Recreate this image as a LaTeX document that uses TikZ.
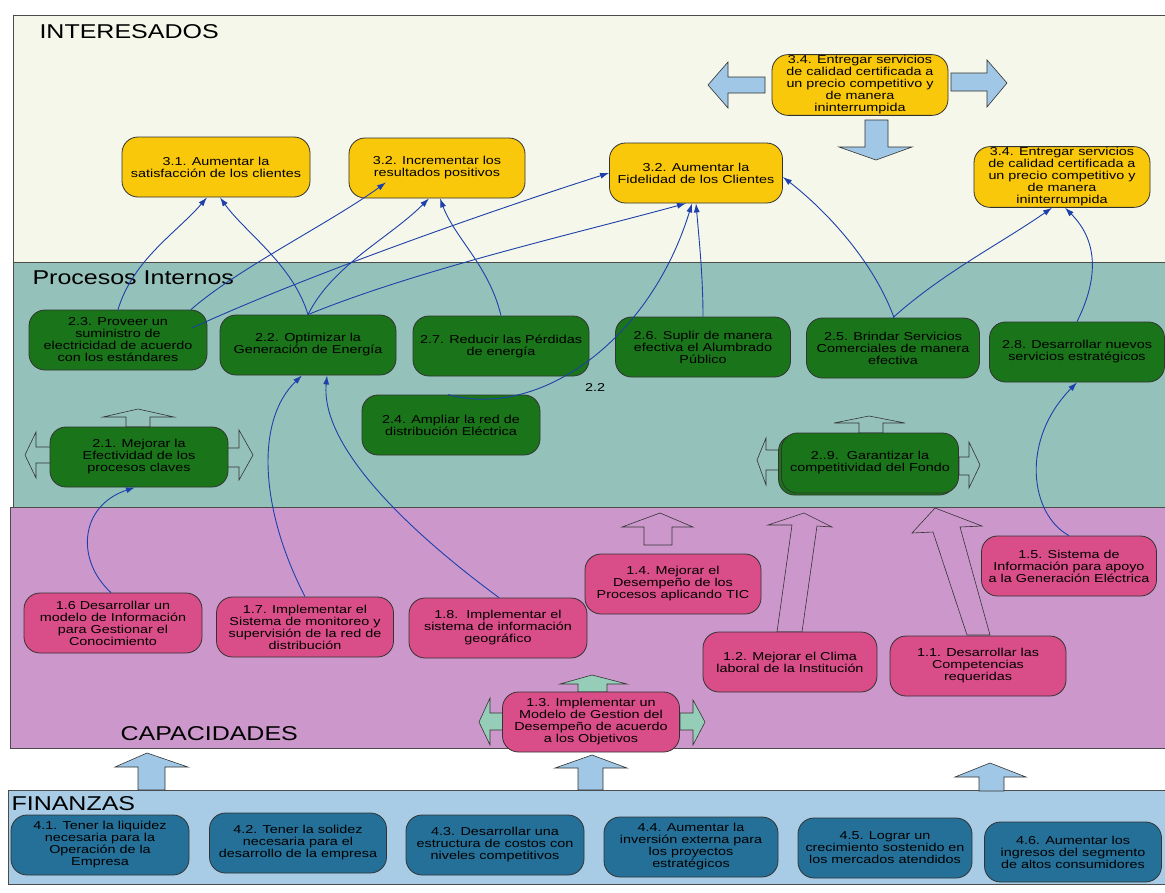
\documentclass[tikz,border=0pt]{standalone}
\usepackage{fontspec}
\setmainfont{Liberation Sans}[FakeStretch=1.25]
\usetikzlibrary{arrows.meta,shadows}

\definecolor{intfill}{RGB}{244,247,233}
\definecolor{procfill}{RGB}{148,194,186}
\definecolor{capfill}{RGB}{204,152,204}
\definecolor{finfill}{RGB}{168,204,230}
\definecolor{objyellow}{RGB}{250,200,10}
\definecolor{procgreen}{RGB}{26,116,26}
\definecolor{cappink}{RGB}{217,78,136}
\definecolor{finblue}{RGB}{36,112,152}
\definecolor{linkblue}{RGB}{30,64,170}
\definecolor{arrowblue}{RGB}{160,200,230}
\definecolor{arrowteal}{RGB}{150,205,185}

\tikzset{
  box/.style={rounded corners=16pt, draw=black!80, line width=.8pt, align=center,
    minimum width=176pt, minimum height=60pt, inner sep=1pt,
    font=\fontsize{11.5}{12}\selectfont},
  ybox/.style={box, fill=objyellow},
  gbox/.style={box, fill=procgreen},
  pbox/.style={box, fill=cappink},
  bbox/.style={box, fill=finblue},
  band/.style={draw=black!70, line width=.8pt},
  heading/.style={anchor=base west, font=\fontsize{20}{24}\selectfont},
  hollow/.style={draw=black!80, line width=.6pt},
  link/.style={draw=linkblue, line width=.9pt, -{Latex[length=9pt,width=6pt]}}
}

\begin{document}
\begin{tikzpicture}[x=1pt,y=-1pt]
  \useasboundingbox (0,0) rectangle (1165,892);

  % perspective bands
  \filldraw[band,fill=intfill] (13,15) rectangle (1175,262);
  \filldraw[band,fill=procfill] (13,262) rectangle (1175,507);
  \filldraw[band,fill=capfill] (10,507) rectangle (1175,748);
  \filldraw[band,fill=finfill] (8,790) rectangle (1175,884);

  \node[heading] (hint) at (36,38) {INTERESADOS};
  \node[heading] (hproc) at (29,284) {Procesos Internos};
  \node[heading] (hcap) at (117,740) {CAPACIDADES};
  \node[heading] (hfin) at (8,810) {FINANZAS};

  % block arrows
  \filldraw[hollow,fill=arrowblue] (765,77) -- (728,77) -- (728,62) -- (708,85) -- (728,108) -- (728,93) -- (765,93) -- cycle;
  \filldraw[hollow,fill=arrowblue] (951,73) -- (987,73) -- (987,60) -- (1007,83) -- (987,107) -- (987,91) -- (951,91) -- cycle;
  \filldraw[hollow,fill=arrowblue] (865,120) -- (888,120) -- (888,147) -- (912,147) -- (876,160) -- (839,147) -- (865,147) -- cycle;

  \filldraw[hollow,fill=procfill] (126,427) -- (126,417) -- (103,417) -- (138,409) -- (174,417) -- (150,417) -- (150,427) -- cycle;
  \filldraw[hollow,fill=procfill] (52,447) -- (36,447) -- (36,432) -- (25,455) -- (36,478) -- (36,463) -- (52,463) -- cycle;
  \filldraw[hollow,fill=procfill] (226,448) -- (239,448) -- (239,430) -- (253,455) -- (239,480) -- (239,467) -- (226,467) -- cycle;
  \filldraw[hollow,fill=procfill] (859,433) -- (859,423) -- (834,423) -- (869,416) -- (905,423) -- (883,423) -- (883,433) -- cycle;
  \filldraw[hollow,fill=procfill] (782,450) -- (766,450) -- (766,438) -- (757,460) -- (766,485) -- (766,470) -- (782,470) -- cycle;
  \filldraw[hollow,fill=procfill] (959,457) -- (969,457) -- (969,442) -- (980,465) -- (969,488) -- (969,475) -- (959,475) -- cycle;

  \filldraw[hollow,fill=capfill] (644,545) -- (644,527) -- (622,527) -- (660,513) -- (693,527) -- (672,527) -- (672,545) -- cycle;
  \filldraw[hollow,fill=capfill] (777,632) -- (792,525) -- (768,525) -- (804,513) -- (832,527) -- (817,526) -- (802,632) -- cycle;
  \filldraw[hollow,fill=capfill] (967,635) -- (933,532) -- (912,533) -- (935,508) -- (982,526) -- (960,527) -- (990,635) -- cycle;

  \filldraw[hollow,fill=arrowteal] (578,692) -- (578,684) -- (560,684) -- (592,675) -- (627,684) -- (607,684) -- (607,692) -- cycle;
  \filldraw[hollow,fill=arrowteal] (505,713) -- (490,713) -- (490,698) -- (479,722) -- (490,745) -- (490,730) -- (505,730) -- cycle;
  \filldraw[hollow,fill=arrowteal] (680,713) -- (693,713) -- (693,700) -- (705,722) -- (693,745) -- (693,730) -- (680,730) -- cycle;

  \filldraw[hollow,fill=arrowblue] (138,790) -- (138,767) -- (115,767) -- (147,753) -- (188,767) -- (165,767) -- (165,790) -- cycle;
  \filldraw[hollow,fill=arrowblue] (578,790) -- (578,768) -- (555,768) -- (592,755) -- (627,768) -- (603,768) -- (603,790) -- cycle;
  \filldraw[hollow,fill=arrowblue] (979,791) -- (979,777) -- (955,777) -- (990,763) -- (1026,777) -- (1004,777) -- (1004,791) -- cycle;

  % stakeholders
  \node[ybox,minimum width=188pt] (obj31) at (216,167) {3.1. Aumentar la\\satisfacción de los clientes};
  \node[ybox] (obj32) at (437,168) {3.2. Incrementar los\\resultados positivos};
  \node[ybox,minimum width=173pt] (objfid) at (696,173) {3.2. Aumentar la\\Fidelidad de los Clientes};
  \node[ybox] (obj34a) at (860,85) {3.4. Entregar servicios\\de calidad certificada a\\un precio competitivo y\\de manera\\ininterrumpida};
  \node[ybox] (obj34b) at (1062,177) {3.4. Entregar servicios\\de calidad certificada a\\un precio competitivo y\\de manera\\ininterrumpida};

  % internal processes
  \node[gbox,minimum width=178pt] (proc23) at (118,340) {2.3. Proveer un\\suministro de\\electricidad de acuerdo\\con los estándares};
  \node[gbox] (proc22) at (308,345) {2.2. Optimizar la\\Generación de Energía};
  \node[gbox] (proc27) at (501,346) {2.7. Reducir las Pérdidas\\de energía};
  \node[gbox,minimum width=175pt] (proc26) at (703,347) {2.6. Suplir de manera\\efectiva el Alumbrado\\Público};
  \node[gbox,minimum width=173pt] (proc25) at (893,348) {2.5. Brindar Servicios\\Comerciales de manera\\efectiva};
  \node[gbox,minimum width=175pt] (proc28) at (1077,352) {2.8. Desarrollar nuevos\\servicios estratégicos};
  \node[gbox,minimum width=178pt] (proc24) at (451,425) {2.4. Ampliar la red de\\distribución Eléctrica};
  \node[gbox,minimum width=178pt] (proc21) at (139,457) {2.1. Mejorar la\\Efectividad de los\\procesos claves};
  \node[gbox,minimum width=177pt,copy shadow={shadow xshift=-3pt,shadow yshift=-2pt}] (proc29) at (870,463) {2..9.\ \ Garantizar la\\competitividad del Fondo};
  \node[font=\fontsize{11.5}{12}\selectfont] (lbl22) at (595,387) {2.2};

  % capabilities
  \node[pbox,minimum width=178pt] (cap16) at (113,623) {1.6 Desarrollar un\\modelo de Información\\para Gestionar el\\Conocimiento};
  \node[pbox,minimum width=177pt] (cap17) at (305,627) {1.7. Implementar el\\Sistema de monitoreo y\\supervisión de la red de\\distribución};
  \node[pbox,minimum width=178pt] (cap18) at (498,628) {1.8.\ \ Implementar el\\sistema de información\\geográfico};
  \node[pbox] (cap14) at (673,584) {1.4. Mejorar el\\Desempeño de los\\Procesos aplicando TIC};
  \node[pbox,minimum width=175pt] (cap15) at (1069,566) {1.5. Sistema de\\Información para apoyo\\a la Generación Eléctrica};
  \node[pbox,minimum width=174pt] (cap12) at (790,662) {1.2. Mejorar el Clima\\laboral de la Institución};
  \node[pbox] (cap11) at (978,666) {1.1. Desarrollar las\\Competencias\\requeridas};
  \node[pbox,minimum width=177pt] (cap13) at (591,722) {1.3. Implementar un\\Modelo de Gestion del\\Desempeño de acuerdo\\a los Objetivos};

  % finances
  \node[bbox,minimum width=178pt] (fin41) at (100,845) {4.1. Tener la liquidez\\necesaria para la\\Operación de la\\Empresa};
  \node[bbox,minimum width=177pt] (fin42) at (298,843) {4.2. Tener la solidez\\necesaria para el\\desarrollo de la empresa};
  \node[bbox,minimum width=178pt] (fin43) at (495,845) {4.3. Desarrollar una\\estructura de costos con\\niveles competitivos};
  \node[bbox,minimum width=174pt] (fin44) at (691,847) {4.4. Aumentar la\\inversión externa para\\los proyectos\\estratégicos};
  \node[bbox,minimum width=174pt] (fin45) at (885,848) {4.5. Lograr un\\crecimiento sostenido en\\los mercados atendidos};
  \node[bbox,minimum width=177pt] (fin46) at (1073,852) {4.6. Aumentar los\\ingresos del segmento\\de altos consumidores};

  % cause-effect links
  \draw[link] (proc23.north) .. controls +(15,-50) and +(-30,35) .. ([xshift=-9pt]obj31.south);
  \draw[link] (proc22.north) .. controls +(-15,-50) and +(25,35) .. ([xshift=4pt]obj31.south);
  \draw[link] ([xshift=73pt]proc23.north) .. controls +(45,-40) and +(-55,40) .. ([xshift=-51pt,yshift=16pt]obj32.south);
  \draw[link] (proc22.north) .. controls +(25,-50) and +(-40,40) .. ([xshift=-8pt]obj32.south);
  \draw[link] (proc27.north) .. controls +(-12,-50) and +(15,40) .. ([xshift=3pt]obj32.south);
  \draw[link] ([xshift=74pt,yshift=12pt]proc23.center) .. controls +(120,-55) and +(-110,35) .. (objfid.west);
  \draw[link] (proc22.north) .. controls +(110,-45) and +(-110,30) .. ([xshift=-10pt]objfid.south);
  \draw[link] (proc26.north) .. controls +(0,-40) and +(3,35) .. (objfid.south);
  \draw[link] ([xshift=-3pt]proc24.north) .. controls +(92,25) and +(-42,137) .. ([xshift=-4pt]objfid.south);
  \draw[link] ([xshift=1pt]proc25.north) .. controls +(-20,-55) and +(45,35) .. ([yshift=-4pt]objfid.east);
  \draw[link] (proc25.north) .. controls +(50,-45) and +(-50,35) .. ([xshift=-10pt]obj34b.south);
  \draw[link] (proc28.north) .. controls +(20,-40) and +(35,35) .. ([xshift=3pt]obj34b.south);

  \draw[link] ([xshift=-2pt]cap16.north) .. controls +(-36,-33) and +(-55,18) .. ([xshift=-4pt]proc21.south);
  \draw[link] (cap17.north) .. controls +(-45,-87) and +(-47,45) .. ([xshift=-6pt]proc22.south);
  \draw[link] ([xshift=1pt]cap18.north) .. controls +(-79,-58) and +(-7,75) .. ([xshift=19pt]proc22.south);
  \draw[link] (cap15.north) .. controls +(-39,-21) and +(-57,58) .. (proc28.south);
\end{tikzpicture}
\end{document}
